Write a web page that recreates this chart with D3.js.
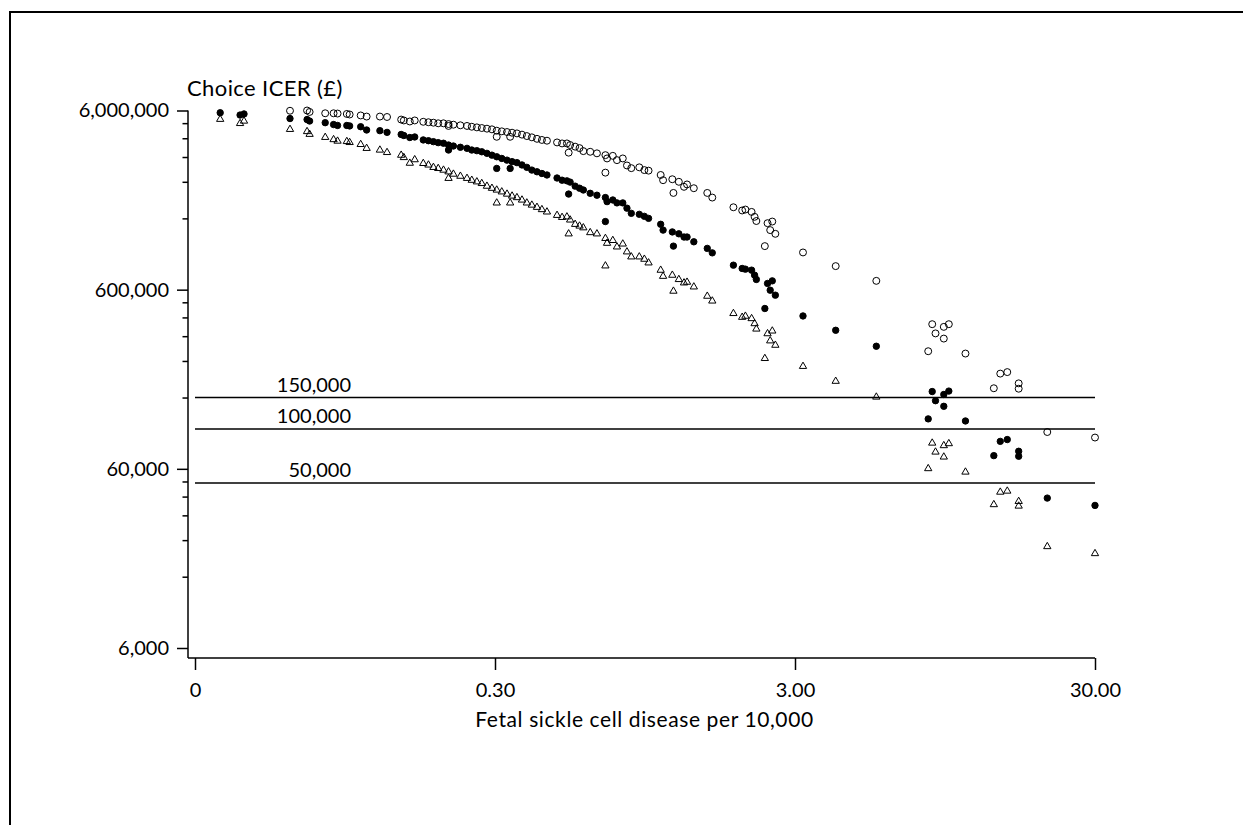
<!DOCTYPE html>
<html>
<head>
<meta charset="utf-8">
<script src="https://cdn.jsdelivr.net/npm/d3@7"></script>
<style>
  body { margin: 0; background: #fff; }
  svg text { font-family: Lato, "Open Sans", sans-serif; fill: #000; }
</style>
</head>
<body>
<div id="chart"></div>
<script>
/* DATA */
// fetal sickle cell disease per 10,000 (shared by the three series)
const fetalRate = [
  0.0364, 0.0424, 0.0437, 0.0622, 0.0709, 0.0723, 0.0815, 0.0869, 0.0896, 0.0962,
  0.0983, 0.107, 0.112, 0.124, 0.131, 0.146, 0.149, 0.156, 0.162, 0.173,
  0.180, 0.187, 0.194, 0.202, 0.210, 0.210, 0.218, 0.230, 0.242, 0.251,
  0.261, 0.271, 0.282, 0.293, 0.304, 0.304, 0.316, 0.329, 0.337, 0.342,
  0.355, 0.369, 0.383, 0.398, 0.414, 0.430, 0.447, 0.483, 0.502, 0.521,
  0.528, 0.534, 0.555, 0.574, 0.591, 0.623, 0.656, 0.700, 0.700, 0.709,
  0.741, 0.765, 0.800, 0.826, 0.854, 0.908, 0.944, 0.975, 1.07, 1.09,
  1.17, 1.18, 1.23, 1.28, 1.31, 1.38, 1.53, 1.59, 1.87, 2.00,
  2.05, 2.15, 2.20, 2.23, 2.38, 2.43, 2.48, 2.52, 2.58, 3.19,
  4.10, 5.60, 8.34, 8.60, 8.82, 9.40, 9.40, 9.77, 11.1, 13.8,
  14.5, 15.3, 16.7, 16.7, 20.8, 30.0
];

// choice ICER (£), open circles
const icerOpen = [
  null, null, null, 5980000, 6000000, 5890000, 5790000, 5790000, 5770000, 5740000,
  5700000, 5630000, 5550000, 5550000, 5520000, 5340000, 5280000, 5210000, 5280000, 5190000,
  5160000, 5130000, 5090000, 5090000, 5040000, 4920000, 5000000, 4960000, 4920000, 4870000,
  4830000, 4790000, 4750000, 4710000, 4630000, 4280000, 4590000, 4550000, 4280000, 4510000,
  4470000, 4400000, 4320000, 4250000, 4170000, 4110000, 4070000, 3980000, 3930000, 3930000,
  3490000, 3850000, 3770000, 3700000, 3560000, 3530000, 3460000, 3380000, 2700000, 3240000,
  3350000, 3170000, 3240000, 2960000, 2860000, 2890000, 2790000, 2770000, 2620000, 2450000,
  2480000, 2080000, 2400000, 2250000, 2320000, 2210000, 2080000, 1960000, 1730000, 1660000,
  1680000, 1630000, 1530000, 1450000, 1050000, 1410000, 1290000, 1440000, 1230000, 968000,
  812000, 672000, 272000, 385000, 342000, 372000, 320000, 385000, 264000, 169000,
  204000, 208000, 180000, 168000, 96300, 89700
];

// choice ICER (£), filled circles
const icerFilled = [
  5830000, 5660000, 5740000, 5410000, 5340000, 5240000, 5130000, 5010000, 4950000, 4950000,
  4920000, 4870000, 4670000, 4630000, 4530000, 4410000, 4350000, 4240000, 4270000, 4110000,
  4070000, 4020000, 3970000, 3940000, 3850000, 3610000, 3800000, 3740000, 3690000, 3610000,
  3580000, 3530000, 3460000, 3380000, 3310000, 2850000, 3240000, 3170000, 2850000, 3110000,
  3070000, 2980000, 2890000, 2790000, 2730000, 2670000, 2620000, 2520000, 2450000, 2430000,
  2050000, 2390000, 2270000, 2210000, 2160000, 2070000, 2020000, 1960000, 1440000, 1860000,
  1900000, 1830000, 1830000, 1710000, 1600000, 1580000, 1540000, 1500000, 1390000, 1290000,
  1260000, 1050000, 1230000, 1180000, 1180000, 1110000, 1020000, 963000, 822000, 788000,
  781000, 771000, 723000, 684000, 471000, 650000, 596000, 672000, 559000, 428000,
  356000, 290000, 114000, 162000, 144000, 156000, 134000, 163000, 111000, 71100,
  85400, 87400, 75200, 70500, 41200, 37500
];

// choice ICER (£), open triangles
const icerTriangle = [
  5360000, 5080000, 5240000, 4710000, 4580000, 4420000, 4250000, 4130000, 4050000, 4030000,
  3980000, 3880000, 3690000, 3610000, 3500000, 3380000, 3280000, 3050000, 3190000, 3040000,
  2980000, 2890000, 2850000, 2790000, 2730000, 2510000, 2650000, 2580000, 2510000, 2450000,
  2400000, 2350000, 2270000, 2210000, 2160000, 1830000, 2110000, 2050000, 1830000, 2000000,
  1960000, 1900000, 1830000, 1780000, 1730000, 1680000, 1630000, 1560000, 1520000, 1530000,
  1230000, 1470000, 1390000, 1360000, 1330000, 1250000, 1230000, 1160000, 815000, 1090000,
  1130000, 1040000, 1080000, 976000, 915000, 915000, 888000, 847000, 771000, 713000,
  723000, 589000, 684000, 655000, 661000, 622000, 552000, 519000, 442000, 421000,
  427000, 414000, 388000, 362000, 248000, 341000, 311000, 353000, 294000, 224000,
  185000, 151000, 60200, 83600, 74500, 80900, 69900, 83000, 57600, 37900,
  44500, 45100, 39500, 37200, 22100, 20200
];

// threshold lines (£)
const thresholds = [150000, 100000, 50000];
const thresholdLabels = ["150,000", "100,000", "50,000"];

// axis ticks
const xTicks = [0.03, 0.3, 3, 30];
const xTickLabels = ["0", "0.30", "3.00", "30.00"];
const yTicks = [6000, 60000, 600000, 6000000];
const yTickLabels = ["6,000", "60,000", "600,000", "6,000,000"];
const yMinorTicks = [
  15000, 24000, 33000, 42000, 51000,
  150000, 240000, 330000, 420000, 510000,
  1500000, 2400000, 3300000, 4200000, 5100000
];

/* CONSTANTS */
const width = 1243,
  height = 825,
  margin = { top: 110.5, bottom: 177, left: 195, right: 148 },
  fontSize = 20;

const svg = d3.select("#chart")
  .append("svg")
  .attr("width", width)
  .attr("height", height)
  .style("display", "block");

svg.append("rect")
  .attr("width", width)
  .attr("height", height)
  .attr("fill", "#fff");

// outer frame (runs off the right and bottom edges)
svg.append("rect")
  .attr("x", 10)
  .attr("y", 12)
  .attr("width", width + 20)
  .attr("height", height + 20)
  .attr("fill", "none")
  .attr("stroke", "#000")
  .attr("stroke-width", 2);

/* SCALES */
const xScale = d3.scaleLog()
  .domain([0.03, 30])
  .range([margin.left, width - margin.right]);

const yScale = d3.scaleLog()
  .domain([6000, 6000000])
  .range([height - margin.bottom, margin.top]);

const axisX = margin.left - 7,        // y axis line position
  axisY = height - margin.bottom + 10; // x axis line position

/* AXES */
const yAxisGroup = svg.append("g")
  .attr("transform", `translate(${axisX},0)`)
  .call(d3.axisLeft(yScale)
    .tickValues(yTicks)
    .tickFormat((d, i) => yTickLabels[i])
    .tickSize(11)
    .tickPadding(8))
  .call(g => g.select(".domain").remove());

svg.append("g")
  .attr("transform", `translate(${axisX},0)`)
  .call(d3.axisLeft(yScale)
    .tickValues(yMinorTicks)
    .tickFormat("")
    .tickSize(5.5))
  .call(g => g.select(".domain").remove())
  .selectAll("line").attr("stroke-width", 1.5);

const xAxisGroup = svg.append("g")
  .attr("transform", `translate(0,${axisY})`)
  .call(d3.axisBottom(xScale)
    .tickValues(xTicks)
    .tickFormat((d, i) => xTickLabels[i])
    .tickSize(12)
    .tickPadding(13))
  .call(g => g.select(".domain").remove());

[yAxisGroup, xAxisGroup].forEach(g => {
  g.attr("font-size", fontSize).attr("font-family", null);
  g.selectAll("line").attr("stroke-width", 1.5);
});

// axis lines
svg.append("line")
  .attr("x1", axisX).attr("x2", axisX)
  .attr("y1", yScale(6000000)).attr("y2", axisY)
  .attr("stroke", "#000").attr("stroke-width", 1.5);

svg.append("line")
  .attr("x1", axisX).attr("x2", xScale(30))
  .attr("y1", axisY).attr("y2", axisY)
  .attr("stroke", "#000").attr("stroke-width", 1.5);

// titles
svg.append("text")
  .attr("x", axisX - 1)
  .attr("y", 96)
  .attr("font-size", 22)
  .attr("letter-spacing", 0.4)
  .text("Choice ICER (£)");

svg.append("text")
  .attr("x", (axisX + xScale(30)) / 2 + 3)
  .attr("y", 727)
  .attr("text-anchor", "middle")
  .attr("font-size", 21)
  .attr("letter-spacing", 0.6)
  .text("Fetal sickle cell disease per 10,000");

/* THRESHOLD LINES */
const thr = svg.append("g");
thr.selectAll("line")
  .data(thresholds)
  .join("line")
  .attr("x1", xScale(0.03))
  .attr("x2", xScale(30))
  .attr("y1", d => yScale(d))
  .attr("y2", d => yScale(d))
  .attr("stroke", "#000")
  .attr("stroke-width", 1.5);

thr.selectAll("text")
  .data(thresholds)
  .join("text")
  .attr("x", 351)
  .attr("y", d => yScale(d) - 6)
  .attr("text-anchor", "end")
  .attr("font-size", fontSize)
  .text((d, i) => thresholdLabels[i]);

/* POINTS */
const points = fetalRate.map((x, i) => ({
  x,
  open: icerOpen[i],
  filled: icerFilled[i],
  tri: icerTriangle[i]
}));

const series = [
  { key: "tri", shape: d3.symbolTriangle, size: 23, fill: "none" },
  { key: "filled", shape: d3.symbolCircle, size: 32, fill: "#000" },
  { key: "open", shape: d3.symbolCircle, size: 38, fill: "none" }
];

series.forEach(s => {
  svg.append("g")
    .selectAll("path")
    .data(points.filter(d => d[s.key] != null))
    .join("path")
    .attr("d", d3.symbol().type(s.shape).size(s.size))
    .attr("transform", d => `translate(${xScale(d.x)},${yScale(d[s.key])})`)
    .attr("fill", s.fill)
    .attr("stroke", "#000")
    .attr("stroke-width", 1);
});
</script>
</body>
</html>
